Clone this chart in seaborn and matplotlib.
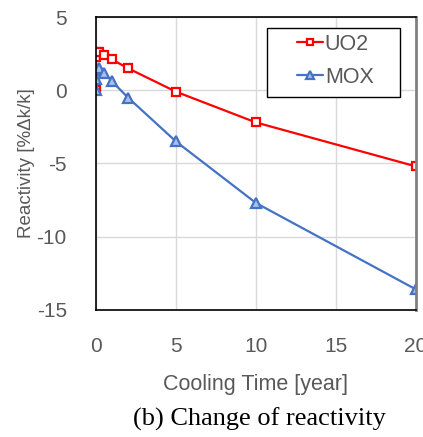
import matplotlib
matplotlib.use("Agg")
import matplotlib.pyplot as plt
from matplotlib.patches import Rectangle
import seaborn as sns
import pandas as pd

time = [0, 0.01, 0.1, 0.2, 0.5, 1, 2, 5, 10, 20]
uo2 = [0, 2.3, 2.6, 2.6, 2.4, 2.1, 1.5, -0.1, -2.2, -5.2]
mox = [0, 0.8, 1.4, 1.5, 1.2, 0.6, -0.5, -3.5, -7.7, -13.6]
x_ticks = [0, 5, 10, 15, 20]
y_ticks = [-15, -10, -5, 0, 5]

sns.set_theme(style="white")
plt.rcParams['font.family'] = ['Liberation Sans', 'DejaVu Sans']
plt.rcParams['axes.unicode_minus'] = False

df_u = pd.DataFrame({"t": time, "r": uo2})
df_m = pd.DataFrame({"t": time, "r": mox})

fig = plt.figure(figsize=(4.23, 4.37), dpi=100)
ax = fig.add_axes([0.227, 0.291, 0.756, 0.670])

sns.lineplot(data=df_u, x="t", y="r", ax=ax, color="#FF0000", marker="s",
             markersize=6, markerfacecolor="white", markeredgecolor="#FF0000",
             markeredgewidth=1.6, linewidth=1.6, label="UO2", sort=False)
sns.lineplot(data=df_m, x="t", y="r", ax=ax, color="#4472C4", marker="^",
             markersize=7, markerfacecolor="#A9C0E8", markeredgecolor="#4472C4",
             markeredgewidth=1.6, linewidth=1.6, label="MOX", sort=False)

ax.set_xlim(0, 20)
ax.set_ylim(-15, 5)
ax.set_xticks(x_ticks)
ax.set_yticks(y_ticks)
ax.grid(True, color="#D9D9D9", linewidth=1)
ax.set_axisbelow(True)
for s in ["left", "top", "bottom"]:
    ax.spines[s].set_color("black")
    ax.spines[s].set_linewidth(1.2)
ax.spines["right"].set_color("#808080")
ax.spines["right"].set_linewidth(2)
ax.tick_params(axis="x", labelsize=15, labelcolor="#595959", length=0, pad=19.5)
ax.tick_params(axis="y", labelsize=15, labelcolor="#595959", length=0, pad=21)
ax.set_xlabel("Cooling Time [year]", fontsize=15.5, color="#595959", labelpad=13)
ax.set_ylabel("Reactivity [%Δk/k]", fontsize=13.5, color="#595959")
ax.yaxis.set_label_coords(-0.19, 0.5)

# legend frame
ax.add_patch(Rectangle((0.534, 0.727), 0.416, 0.235, transform=ax.transAxes,
                       facecolor="white", edgecolor="black", linewidth=1,
                       zorder=5, clip_on=False))
leg = ax.legend(loc="upper left", bbox_to_anchor=(0.628, 0.943), borderaxespad=0,
                fontsize=15.5, frameon=False, handlelength=1.2,
                handletextpad=0.1, labelcolor="#595959", borderpad=0,
                labelspacing=0.55, markerscale=0.8)
leg.set_zorder(6)

fig.text(0.614, 0.025, "(b) Change of reactivity", ha="center", va="baseline",
         fontsize=19, family=["Liberation Serif", "DejaVu Serif"], color="black")

fig.savefig("out.png", dpi=100)
